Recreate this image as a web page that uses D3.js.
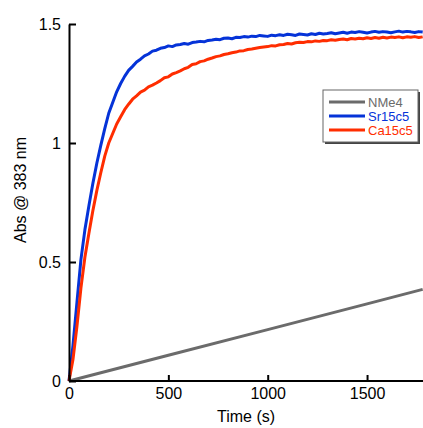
<!DOCTYPE html>
<html>
<head>
<meta charset="utf-8">
<script src="https://cdn.jsdelivr.net/npm/d3@7"></script>
<style>
  body { margin: 0; background: #fff; }
  svg { display: block; font-family: "Liberation Sans", Arial, sans-serif; }
  .axis path, .axis line { stroke: #000; stroke-width: 2; }
  .axis text { font-size: 16px; fill: #000; }
</style>
</head>
<body>
<svg id="chart"></svg>
<script>
// Sampling times (s), one reading every 20 s
var time = d3.range(0, 1800, 20);

var sr15c5 = [
  0, 0.15, 0.33, 0.51, 0.635, 0.735, 0.83, 0.915, 0.99, 1.06,
  1.125, 1.17, 1.215, 1.25, 1.28, 1.305, 1.322, 1.34, 1.352, 1.366,
  1.374, 1.386, 1.39, 1.398, 1.401, 1.408, 1.405, 1.412, 1.414, 1.418,
  1.415, 1.422, 1.424, 1.427, 1.425, 1.431, 1.433, 1.436, 1.434, 1.44,
  1.441, 1.438, 1.444, 1.443, 1.447, 1.445, 1.449, 1.447, 1.452, 1.45,
  1.448, 1.453, 1.451, 1.455, 1.452, 1.457, 1.455, 1.452, 1.458, 1.456,
  1.454, 1.459, 1.456, 1.461, 1.458, 1.46, 1.463, 1.459, 1.462, 1.465,
  1.461, 1.466, 1.464, 1.468, 1.465, 1.462, 1.466, 1.469, 1.465, 1.468,
  1.466, 1.463, 1.467, 1.47, 1.466, 1.469, 1.467, 1.464, 1.468, 1.466
];

var ca15c5 = [
  0, 0.09, 0.23, 0.39, 0.52, 0.62, 0.715, 0.8, 0.875, 0.945,
  1.0, 1.04, 1.08, 1.11, 1.14, 1.163, 1.184, 1.198, 1.214, 1.222,
  1.236, 1.243, 1.252, 1.262, 1.274, 1.278, 1.29, 1.296, 1.303, 1.312,
  1.318, 1.33, 1.333, 1.342, 1.345, 1.352, 1.357, 1.363, 1.366, 1.372,
  1.375, 1.379, 1.382, 1.387, 1.388, 1.393, 1.395, 1.398, 1.401, 1.403,
  1.405, 1.409, 1.408, 1.413, 1.414, 1.418, 1.416, 1.421, 1.423, 1.422,
  1.426, 1.425, 1.429, 1.427, 1.431, 1.43, 1.434, 1.432, 1.435, 1.437,
  1.434, 1.439, 1.437, 1.44, 1.438, 1.442, 1.439, 1.443, 1.44, 1.444,
  1.441, 1.445, 1.443, 1.446, 1.442, 1.446, 1.444, 1.447, 1.443, 1.446
];

var nme4Time = [0, 500, 1000, 1500, 1780];
var nme4 = [0, 0.108, 0.216, 0.324, 0.385];

var xTicks = [0, 500, 1000, 1500];
var yTicks = [0, 0.5, 1, 1.5];

var seriesNames = ["NMe4", "Sr15c5", "Ca15c5"];
var seriesColors = ["#6b6b6b", "#0533d8", "#ff2d00"];

var width = 423, height = 428;
var margin = { top: 24, left: 69, bottom: 47 };

var svg = d3.select("#chart")
    .attr("width", width)
    .attr("height", height);

var x = d3.scaleLinear()
    .domain([0, 1800])
    .range([margin.left, margin.left + 0.1987 * 1800]);

var y = d3.scaleLinear()
    .domain([0, 1.5])
    .range([height - margin.bottom, margin.top]);

var line = d3.line()
    .x(function(d) { return x(d[0]); })
    .y(function(d) { return y(d[1]); });

var series = [
  { name: "NMe4", pts: d3.zip(nme4Time, nme4) },
  { name: "Sr15c5", pts: d3.zip(time, sr15c5) },
  { name: "Ca15c5", pts: d3.zip(time, ca15c5) }
];

svg.selectAll(".series")
    .data(series)
    .enter().append("path")
    .attr("class", "series")
    .attr("fill", "none")
    .attr("stroke", function(d, i) { return seriesColors[i]; })
    .attr("stroke-width", 3)
    .attr("stroke-linejoin", "round")
    .attr("d", function(d) { return line(d.pts); });

// Axes (ticks point inward)
svg.append("g")
    .attr("class", "axis")
    .attr("transform", "translate(0," + y(0) + ")")
    .call(d3.axisBottom(x).tickValues(xTicks).tickFormat(d3.format("d")).tickSizeInner(-6).tickSizeOuter(0).tickPadding(7))
    .call(function(g) { g.select(".domain").attr("d", "M" + x(0) + ",0H" + width); });

svg.append("g")
    .attr("class", "axis")
    .attr("transform", "translate(" + x(0) + ",0)")
    .call(d3.axisLeft(y).tickValues(yTicks).tickFormat(d3.format("")).tickSizeInner(-7).tickSizeOuter(0).tickPadding(8));

// Axis titles
svg.append("text")
    .attr("x", 246)
    .attr("y", 422)
    .attr("text-anchor", "middle")
    .style("font-size", "16px")
    .text("Time (s)");

svg.append("text")
    .attr("transform", "translate(26,190) rotate(-90)")
    .attr("text-anchor", "middle")
    .style("font-size", "16px")
    .text("Abs @ 383 nm");

// Legend
var lg = svg.append("g").attr("transform", "translate(323,90)");
lg.append("rect")
    .attr("x", 2).attr("y", 2)
    .attr("width", 95).attr("height", 52)
    .attr("fill", "#444");
lg.append("rect")
    .attr("width", 95).attr("height", 52)
    .attr("fill", "#fff")
    .attr("stroke", "#666")
    .attr("stroke-width", 1);

var item = lg.selectAll(".legend")
    .data(seriesNames)
    .enter().append("g")
    .attr("class", "legend")
    .attr("transform", function(d, i) { return "translate(0," + (12 + i * 14) + ")"; });

item.append("line")
    .attr("x1", 6).attr("x2", 42)
    .attr("stroke", function(d, i) { return seriesColors[i]; })
    .attr("stroke-width", 3);

item.append("text")
    .attr("x", 45)
    .attr("dy", "0.35em")
    .style("font-size", "13px")
    .attr("fill", function(d, i) { return seriesColors[i]; })
    .text(function(d) { return d; });
</script>
</body>
</html>
